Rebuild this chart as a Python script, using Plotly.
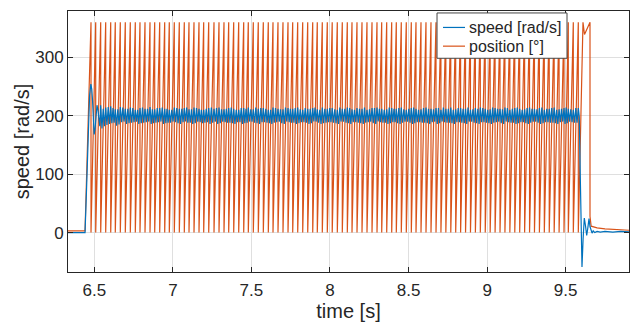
import plotly.graph_objects as go

# ---------------- data ----------------
# times [s] at which the position trace wraps from 360° back to 0°
wrap_times = [
    6.4790, 6.5089, 6.5407, 6.5725, 6.6044, 6.6336, 6.6655, 6.6973, 6.7291, 6.7609,
    6.7908, 6.8227, 6.8545, 6.8844, 6.9162, 6.9480, 6.9773, 7.0091, 7.0410, 7.0728,
    7.1027, 7.1345, 7.1663, 7.1962, 7.2281, 7.2618, 7.2936, 7.3254, 7.3553, 7.3872,
    7.4190, 7.4508, 7.4801, 7.5119, 7.5437, 7.5756, 7.6074, 7.6373, 7.6691, 7.7009,
    7.7328, 7.7627, 7.7945, 7.8263, 7.8582, 7.8900, 7.9192, 7.9510, 7.9829, 8.0141,
    8.0465, 8.0783, 8.1102, 8.1401, 8.1719, 8.2037, 8.2355, 8.2674, 8.2992, 8.3291,
    8.3609, 8.3927, 8.4220, 8.4538, 8.4856, 8.5175, 8.5474, 8.5792, 8.6110, 8.6428,
    8.6747, 8.7060, 8.7373, 8.7687, 8.8000, 8.8313, 8.8627, 8.8940, 8.9253, 8.9567,
    8.9880, 9.0193, 9.0507, 9.0820, 9.1133, 9.1447, 9.1760, 9.2073, 9.2387, 9.2700,
    9.3013, 9.3327, 9.3640, 9.3953, 9.4267, 9.4580, 9.4893, 9.5167, 9.5485, 9.5803,
]
pos_wrap_top = 360.0
pos_wrap_bottom = 0.0

# position before the start and after the stop [°]
pos_start_t = [6.3326, 6.441]
pos_start_v = [3.0, 3.0]
pos_end_t = [9.6102, 9.6198, 9.6548, 9.6548, 9.6620, 9.700, 9.750, 9.800, 9.850, 9.903]
pos_end_v = [360.0, 339.0, 360.0, 28.0, 11.0, 8.0, 6.5, 5.5, 4.5, 4.0]

# speed [rad/s]: start-up transient
speed_start_t = [6.3326, 6.441, 6.450, 6.460, 6.470, 6.478, 6.484, 6.489, 6.494,
                 6.499, 6.505, 6.511, 6.517, 6.523, 6.529, 6.535]
speed_start_v = [0, 0, 70, 170, 235, 254, 245, 225, 190, 168, 178, 205, 218, 210, 190, 182]

# speed ripple (two ripples per revolution): peaks / troughs within each revolution
speed_peaks = [
    218, 214, 216, 211, 215, 212, 214, 210, 213, 212, 215, 211, 213, 212, 210, 214, 212, 213, 211, 214,
    212, 210, 213, 212, 214, 211, 213, 212, 210, 213, 214, 211, 212, 213, 210, 214, 212, 211, 213, 212,
    214, 210, 212, 213, 211, 214, 212, 213, 210, 212, 214, 211, 213, 212, 210, 213, 214, 212, 211, 213,
    212, 214, 210, 213, 212, 211, 214, 212, 213, 210, 212, 214, 211, 213, 212, 210, 213, 214, 212, 211,
    213, 212, 214, 210, 213, 212, 211, 214, 212, 213, 210, 212, 214, 211, 213, 212, 210, 213,
]
speed_troughs = [
    178, 184, 187, 183, 189, 186, 188, 190, 187, 189, 186, 188, 190, 187, 188, 189, 186, 190, 188, 187,
    189, 188, 186, 190, 187, 189, 188, 186, 189, 187, 190, 188, 186, 189, 187, 188, 190, 186, 189, 188,
    187, 189, 186, 190, 188, 187, 189, 188, 186, 190, 187, 189, 188, 186, 189, 187, 190, 188, 186, 189,
    187, 188, 190, 186, 189, 188, 187, 189, 186, 190, 188, 187, 189, 188, 186, 190, 187, 189, 188, 186,
    189, 187, 190, 188, 186, 189, 187, 188, 190, 186, 189, 188, 187, 189, 186, 190, 188,
]
speed_peaks_half = [
    212, 215, 213, 211, 214, 212, 213, 210, 214, 212, 211, 213, 214, 212, 210, 213, 212, 214, 211, 213,
    210, 212, 214, 213, 211, 212, 214, 210, 213, 212, 211, 214, 213, 212, 210, 213, 211, 214, 212, 213,
    211, 213, 212, 214, 210, 212, 213, 211, 214, 212, 213, 210, 212, 214, 211, 213, 212, 210, 214, 212,
    213, 211, 212, 214, 210, 213, 212, 211, 213, 214, 212, 210, 213, 212, 214, 211, 212, 213, 210, 214,
    212, 211, 213, 212, 214, 210, 213, 212, 211, 214, 212, 213, 210, 212, 214, 211, 213,
]
speed_troughs_half = [
    182, 186, 188, 185, 190, 187, 189, 186, 188, 190, 187, 189, 186, 188, 190, 187, 189, 188, 186, 190,
    187, 189, 188, 186, 190, 188, 187, 189, 186, 188, 190, 187, 189, 188, 186, 189, 187, 190, 188, 186,
    189, 188, 187, 190, 186, 188, 189, 187, 190, 188, 186, 189, 187, 188, 190, 186, 189, 188, 187, 189,
    186, 190, 188, 187, 189, 188, 186, 190, 187, 189, 188, 186, 189, 187, 190, 188, 186, 189, 187, 188,
    190, 186, 189, 188, 187, 189, 186, 190, 188, 187, 189, 188, 186, 190, 187, 189, 188,
]

# speed: stop transient
speed_end_t = [9.5867, 9.592, 9.598, 9.6038, 9.611, 9.6185, 9.626, 9.6337, 9.641, 9.6484,
               9.655, 9.6611, 9.668, 9.675, 9.685, 9.700, 9.720, 9.750, 9.800, 9.850, 9.903]
speed_end_v = [198, 110, 10, -59, -10, 25, 12, -5, 8, 24, 10, 2, -1, 3, 0, 2, 1, 2, 1, 2, 1.5]

x_ticks = [6.5, 7, 7.5, 8, 8.5, 9, 9.5]
x_tick_labels = ["6.5", "7", "7.5", "8", "8.5", "9", "9.5"]
y_ticks = [0, 100, 200, 300]
y_tick_labels = ["0", "100", "200", "300"]
x_range = [6.3326, 9.903]
y_range = [-67.4, 379.2]
legend_labels = ["speed [rad/s]", "position [°]"]

# ---------------- build traces ----------------
pos_t = list(pos_start_t)
pos_v = list(pos_start_v)
for w in wrap_times:
    pos_t += [w, w]
    pos_v += [pos_wrap_top, pos_wrap_bottom]
pos_t += pos_end_t
pos_v += pos_end_v

def pick(lst, k):
    return lst[min(k, len(lst) - 1)]

spd_t = list(speed_start_t)
spd_v = list(speed_start_v)
ripple_wraps = [w for w in wrap_times if w > speed_start_t[-1]]
for k, w in enumerate(ripple_wraps):
    spd_t.append(w)
    spd_v.append(pick(speed_peaks, k))
    if k + 1 < len(ripple_wraps):
        q = ripple_wraps[k + 1] - w
        spd_t += [w + q / 4, w + q / 2, w + 3 * q / 4]
        spd_v += [pick(speed_troughs, k), pick(speed_peaks_half, k), pick(speed_troughs_half, k)]
spd_t += speed_end_t
spd_v += speed_end_v

BLUE = "#0072BD"
ORANGE = "#D95319"
TXT = "#262626"
FONT = "Liberation Sans, Arial, Helvetica, sans-serif"

fig = go.Figure()
fig.add_trace(go.Scatter(x=pos_t, y=pos_v, mode="lines", name=legend_labels[1],
                         line=dict(color=ORANGE, width=1.2), showlegend=False))
fig.add_trace(go.Scatter(x=spd_t, y=spd_v, mode="lines", name=legend_labels[0],
                         line=dict(color=BLUE, width=1.2), showlegend=False))

# MATLAB-style legend box drawn with shapes + text annotations
lg_x0, lg_x1, lg_y0, lg_y1 = 0.6578, 0.8895, 0.8189, 0.9925
ln_x0, ln_x1, tx_x = 0.6684, 0.7077, 0.7112
rows_y = [0.9370, 0.8653]
shapes = [dict(type="rect", xref="paper", yref="paper", x0=lg_x0, x1=lg_x1, y0=lg_y0, y1=lg_y1,
               line=dict(color="#444444", width=1), fillcolor="white", layer="above")]
annotations = []
for lab, col, ry in zip(legend_labels, [BLUE, ORANGE], rows_y):
    shapes.append(dict(type="line", xref="paper", yref="paper", x0=ln_x0, x1=ln_x1, y0=ry, y1=ry,
                       line=dict(color=col, width=1.2), layer="above"))
    annotations.append(dict(text=lab, xref="paper", yref="paper", x=tx_x, y=ry,
                            xanchor="left", yanchor="middle", showarrow=False,
                            font=dict(family=FONT, size=16, color=TXT)))

axis_common = dict(
    showline=True, linecolor=TXT, linewidth=1, mirror="ticks",
    ticks="inside", ticklen=5, tickcolor=TXT, tickwidth=1,
    showgrid=True, gridcolor="#dfdfdf", gridwidth=1,
    zeroline=False, tickfont=dict(family=FONT, size=17, color=TXT),
)

fig.update_layout(
    width=640, height=327,
    margin=dict(l=68, r=11, t=10, b=52),
    paper_bgcolor="white", plot_bgcolor="white",
    font=dict(family=FONT, color=TXT),
    showlegend=False,
    shapes=shapes, annotations=annotations,
    xaxis=dict(range=x_range, tickvals=x_ticks, ticktext=x_tick_labels,
               ticklabelstandoff=3,
               title=dict(text="time [s]", font=dict(family=FONT, size=20, color=TXT), standoff=3),
               **axis_common),
    yaxis=dict(range=y_range, tickvals=y_ticks, ticktext=y_tick_labels,
               title=dict(text="speed [rad/s]", font=dict(family=FONT, size=20, color=TXT), standoff=0),
               **axis_common),
)

fig.write_html("out.html")
